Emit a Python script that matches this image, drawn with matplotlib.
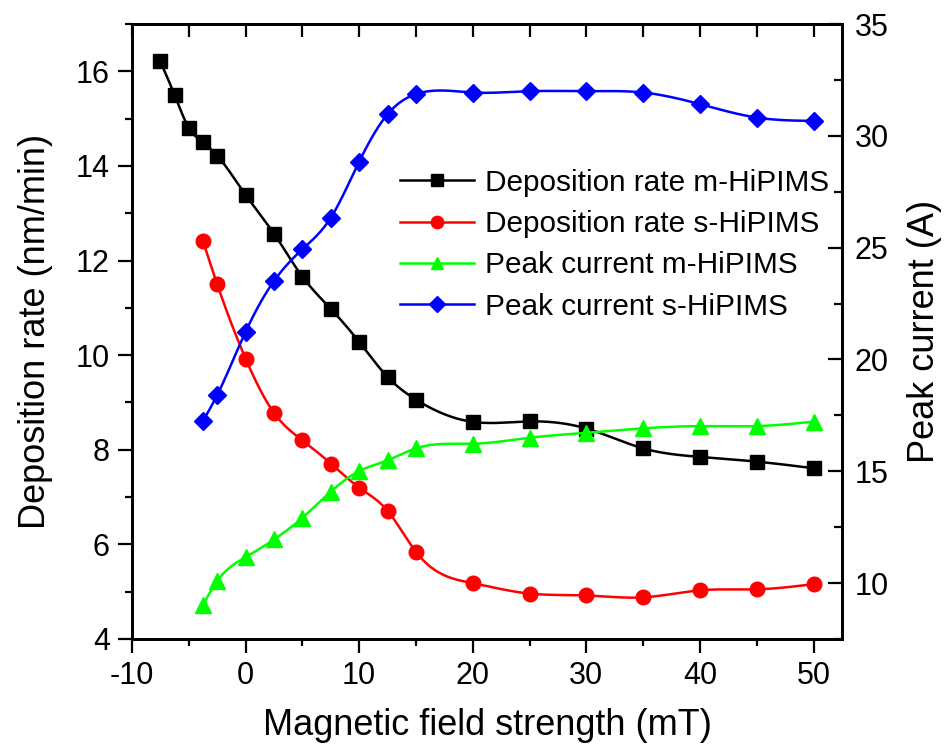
import numpy as np
import matplotlib
matplotlib.use("Agg")
import matplotlib.pyplot as plt
from matplotlib.lines import Line2D
from matplotlib.ticker import MultipleLocator

plt.rcParams['font.family'] = ['Liberation Sans', 'DejaVu Sans']
plt.rcParams['axes.unicode_minus'] = False

# Magnetic field strength (mT)
field_m = [-7.5, -6.25, -5, -3.75, -2.5, 0, 2.5, 5, 7.5, 10, 12.5, 15, 20, 25, 30, 35, 40, 45, 50]
field_s = [-3.75, -2.5, 0, 2.5, 5, 7.5, 10, 12.5, 15, 20, 25, 30, 35, 40, 45, 50]

# Deposition rate (nm/min)
dep_rate_m = [16.21, 15.5, 14.81, 14.5, 14.22, 13.39, 12.57, 11.66, 10.98, 10.28,
              9.54, 9.06, 8.59, 8.60, 8.45, 8.03, 7.85, 7.75, 7.61]
dep_rate_s = [12.41, 11.5, 9.93, 8.78, 8.2, 7.71, 7.2, 6.71, 5.84, 5.18,
              4.96, 4.92, 4.88, 5.03, 5.05, 5.16]

# Peak current (A)
peak_cur_m = [9.02, 10.09, 11.16, 11.95, 12.92, 14.09, 15.01, 15.49, 16.03, 16.23,
              16.5, 16.72, 16.92, 17.02, 17.02, 17.22]
peak_cur_s = [17.25, 18.41, 21.24, 23.51, 24.93, 26.34, 28.85, 30.97, 31.87, 31.94,
              32.0, 32.0, 31.94, 31.42, 30.82, 30.67]

labels = ["Deposition rate m-HiPIMS", "Deposition rate s-HiPIMS",
          "Peak current m-HiPIMS", "Peak current s-HiPIMS"]


def spline(x, y, n=500):
    """Natural cubic spline through (x, y), sampled for a smooth connecting line."""
    x = np.asarray(x, float)
    y = np.asarray(y, float)
    h = np.diff(x)
    k = len(x)
    A = np.zeros((k, k))
    b = np.zeros(k)
    A[0, 0] = A[-1, -1] = 1.0
    for i in range(1, k - 1):
        A[i, i - 1] = h[i - 1]
        A[i, i] = 2 * (h[i - 1] + h[i])
        A[i, i + 1] = h[i]
        b[i] = 3 * ((y[i + 1] - y[i]) / h[i] - (y[i] - y[i - 1]) / h[i - 1])
    c = np.linalg.solve(A, b)
    bc = (y[1:] - y[:-1]) / h - h * (2 * c[:-1] + c[1:]) / 3
    d = (c[1:] - c[:-1]) / (3 * h)
    xs = np.linspace(x[0], x[-1], n)
    idx = np.clip(np.searchsorted(x, xs) - 1, 0, k - 2)
    dx = xs - x[idx]
    ys = y[idx] + bc[idx] * dx + c[idx] * dx ** 2 + d[idx] * dx ** 3
    return xs, ys


fig = plt.figure(figsize=(9.53, 7.53), dpi=100)
ax = fig.add_axes([0.1385, 0.1514, 0.745, 0.8166])
ax2 = ax.twinx()

lw = 1.8
styles = [
    (ax, field_m, dep_rate_m, 'black', 's', 10),
    (ax, field_s, dep_rate_s, 'red', 'o', 10.5),
    (ax2, field_s, peak_cur_m, '#00FF00', '^', 11),
    (ax2, field_s, peak_cur_s, 'blue', 'D', 9),
]
handles = []
for a, xv, yv, col, mk, ms in styles:
    xs, ys = spline(xv, yv)
    a.plot(xs, ys, color=col, lw=lw, zorder=2)
    a.plot(xv, yv, linestyle='none', marker=mk, ms=ms, color=col,
           markeredgecolor=col, zorder=3)
    handles.append(Line2D([], [], color=col, lw=lw, marker=mk, ms=ms * 0.85,
                          markeredgecolor=col))

ax.set_xlim(-10, 52.5)
ax.set_ylim(4, 17)
ax2.set_ylim(7.5, 35)

ax.xaxis.set_major_locator(MultipleLocator(10))
ax.xaxis.set_minor_locator(MultipleLocator(5))
ax.yaxis.set_major_locator(MultipleLocator(2))
ax.yaxis.set_minor_locator(MultipleLocator(1))
ax2.yaxis.set_major_locator(MultipleLocator(5))
ax2.yaxis.set_minor_locator(MultipleLocator(2.5))

tick_fs = 22
ax.tick_params(axis='both', which='major', direction='out', length=10, width=1.6,
               labelsize=tick_fs, pad=6)
ax.tick_params(axis='both', which='minor', direction='out', length=5, width=1.6)
ax.tick_params(axis='x', top=False)
ax.tick_params(axis='y', right=False)
ax2.tick_params(axis='y', which='major', direction='in', length=10, width=1.6,
                labelsize=tick_fs, pad=9)
ax2.tick_params(axis='y', which='minor', direction='in', length=6, width=1.6)

# top axis: inward ticks every 5 mT, no labels
top = ax.secondary_xaxis('top')
top.xaxis.set_major_locator(MultipleLocator(5))
top.tick_params(axis='x', which='major', direction='in', length=9, width=1.6,
                labeltop=False)
top.spines['top'].set_linewidth(2)

for a in (ax, ax2):
    for s in a.spines.values():
        s.set_linewidth(2)

label_fs = 26
ax.set_xlabel("Magnetic field strength (mT)", fontsize=label_fs, labelpad=12)
ax.set_ylabel("Deposition rate (nm/min)", fontsize=label_fs, labelpad=16)
ax2.set_ylabel("Peak current (A)", fontsize=label_fs, labelpad=13)

ax2.legend(handles, labels, loc='upper left', bbox_to_anchor=(0.3775, 0.765),
           frameon=False, fontsize=21.4, handlelength=2.5, handletextpad=0.35,
           labelspacing=0.45, borderpad=0, borderaxespad=0)

fig.savefig("out.png", dpi=100)
